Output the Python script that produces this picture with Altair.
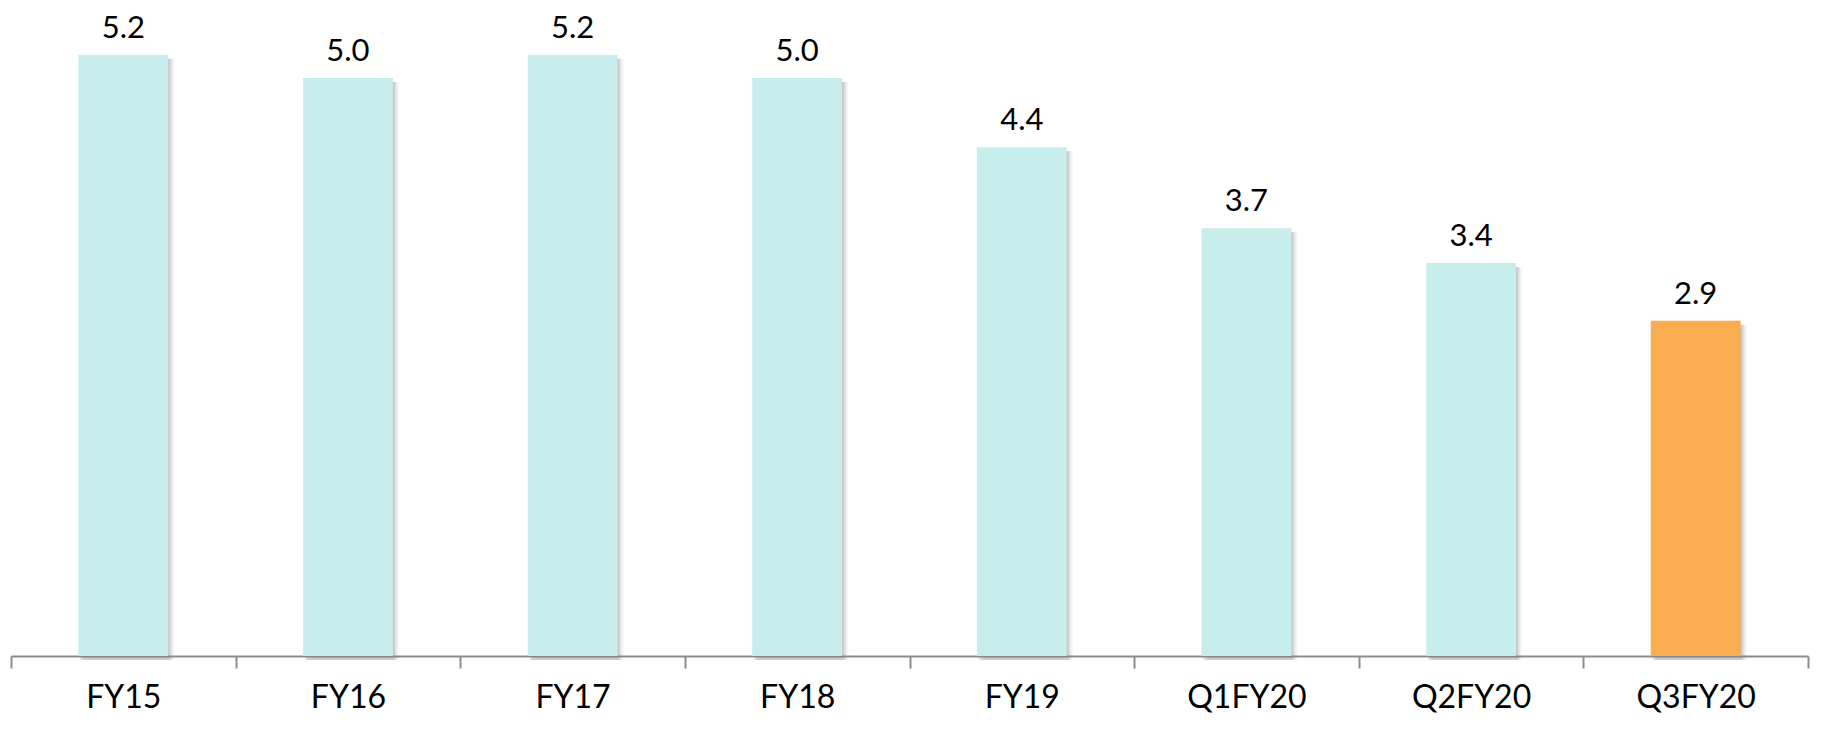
import altair as alt
import pandas as pd

categories = ["FY15", "FY16", "FY17", "FY18", "FY19", "Q1FY20", "Q2FY20", "Q3FY20"]
values = [5.2, 5.0, 5.2, 5.0, 4.4, 3.7, 3.4, 2.9]
colors = ["#C7EEEC"] * 7 + ["#F9AC50"]
labels = [f"{v:.1f}" for v in values]

df = pd.DataFrame({"cat": categories, "val": values, "col": colors, "lab": labels})

x = alt.X("cat:N", sort=None, title=None,
          scale=alt.Scale(paddingInner=0, paddingOuter=0),
          axis=alt.Axis(tickBand="extent", labelAngle=0, labelFont="Lato",
                        labelFontSize=32, labelColor="#000000", labelPadding=14,
                        tickSize=12, tickColor="#8c8c8c", tickWidth=2,
                        domainColor="#8c8c8c", domainWidth=2, grid=False))
y = alt.Y("val:Q", title=None,
          scale=alt.Scale(domain=[0, 5.536], nice=False, zero=True),
          axis=None)

base = alt.Chart(df)

shadows = [
    base.mark_bar(width=alt.RelativeBandSize(0.4), color="#7f7f7f", opacity=op,
                  xOffset=dx, yOffset=4).encode(x=x, y=y)
    for dx, op in [(6, 0.08), (4, 0.15), (2, 0.25)]
]

bars = base.mark_bar(width=alt.RelativeBandSize(0.4)).encode(
    x=x, y=y, color=alt.Color("col:N", scale=None))

text = base.mark_text(font="Lato", fontSize=31, color="#000000",
                      baseline="alphabetic", dy=-17).encode(
    x=x, y=y, text="lab:N")

chart = alt.layer(*shadows, bars, text).properties(
    width=1797, height=640,
    autosize=alt.AutoSizeParams(type="none"),
    padding={"left": 3, "top": 8, "right": 20, "bottom": 75},
    background="#ffffff",
).configure_view(strokeWidth=0, stroke="transparent")

chart.save("out.html", embed_options={"renderer": "svg", "actions": False})
